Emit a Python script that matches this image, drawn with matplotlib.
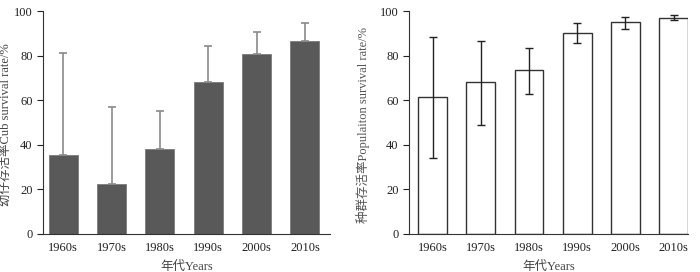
import matplotlib
matplotlib.use("Agg")
import matplotlib.pyplot as plt
import numpy as np

plt.rcParams["font.family"] = ["Liberation Serif", "Noto Sans CJK SC"]
plt.rcParams["font.size"] = 9

decades = ["1960s", "1970s", "1980s", "1990s", "2000s", "2010s"]

# cub survival: mean and upper end of error bar
cub_mean = [35.5, 22.5, 38.0, 68.0, 80.5, 86.5]
cub_upper = [81.0, 57.0, 55.0, 84.5, 90.5, 94.5]

# population survival: mean, lower and upper ends of error bar
pop_mean = [61.5, 68.0, 73.5, 90.0, 95.0, 97.0]
pop_low = [34.0, 49.0, 63.0, 85.5, 92.0, 96.0]
pop_high = [88.5, 86.5, 83.5, 94.5, 97.5, 98.0]

W, H = 700, 272
fig = plt.figure(figsize=(7, 2.72), dpi=100)
ax1 = fig.add_axes([43 / W, 1 - 234 / H, 287 / W, 223 / H])
ax2 = fig.add_axes([409 / W, 1 - 234 / H, 279 / W, 223 / H])

x = np.arange(len(decades))

cm = np.array(cub_mean)
cu = np.array(cub_upper)
ax1.bar(x, cm, width=0.6, color="#595959", edgecolor="#7a7a7a", linewidth=0.6)
ax1.errorbar(x, cm, yerr=[np.zeros_like(cm), cu - cm], fmt="none",
             ecolor="#8a8a8a", elinewidth=1.2, capsize=3, capthick=1.2)
ax1.set_xlim(-0.42, 5.52)
ax1.set_ylabel("幼仔存活率Cub survival rate/%", color="#444444")
ax1.yaxis.set_label_coords(-0.108, 0.49)

pm = np.array(pop_mean)
pl = np.array(pop_low)
ph = np.array(pop_high)
ax2.bar(x, pm, width=0.6, color="white", edgecolor="#333333", linewidth=1.0)
ax2.errorbar(x, pm, yerr=[pm - pl, ph - pm], fmt="none",
             ecolor="#222222", elinewidth=1.0, capsize=3, capthick=1.0)
ax2.set_xlim(-0.49, 5.3)
ax2.set_ylabel("种群存活率Populaiton survival rate/%", color="#555555")
ax2.yaxis.set_label_coords(-0.14, 0.49)

for ax in (ax1, ax2):
    ax.set_ylim(0, 100)
    ax.set_yticks([0, 20, 40, 60, 80, 100])
    ax.set_xticks(x)
    ax.set_xticklabels(decades)
    ax.tick_params(axis="x", length=0, pad=6, labelsize=9, colors="#222222")
    ax.tick_params(axis="y", direction="out", length=4, width=0.8,
                   labelsize=9, colors="#222222")
    ax.spines["top"].set_visible(False)
    ax.spines["right"].set_visible(False)
    ax.spines["left"].set_color("#333333")
    ax.spines["bottom"].set_color("#333333")
    ax.set_xlabel("年代Years", color="#444444", labelpad=5)

plt.savefig("out.png", dpi=100)
